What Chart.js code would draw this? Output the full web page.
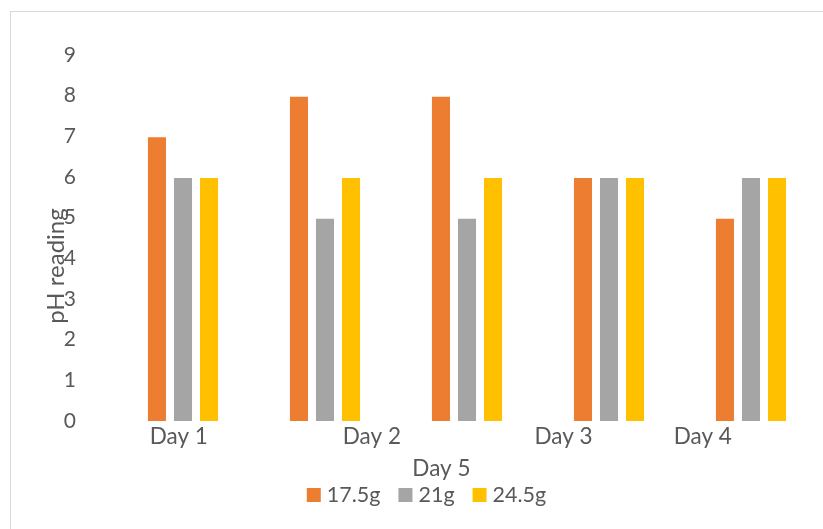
<!DOCTYPE html>
<html>
<head>
<meta charset="utf-8">
<script src="https://cdn.jsdelivr.net/npm/chart.js@4"></script>
<style>
  html, body { margin: 0; padding: 0; background: #fff; overflow: hidden; width: 823px; height: 529px; }
  #frame { position: absolute; left: 10px; top: 11px; width: 835px; height: 530px; border: 1px solid #D9D9D9; background: #fff; }
  canvas { display: block; }
</style>
</head>
<body>
<div id="frame"><canvas id="c" width="835" height="530"></canvas></div>
<script>
// pH readings per day for each sample weight
const days = ['Day 1', 'Day 2', 'Day 3', 'Day 4', 'Day 5'];
const seriesNames = ['17.5g', '21g', '24.5g'];
const seriesColors = ['#ED7D31', '#A5A5A5', '#FFC000'];
const ph17_5 = [7, 8, 8, 6, 5];
const ph21 = [6, 5, 5, 6, 6];
const ph24_5 = [6, 6, 6, 6, 6];
const yTickValues = [0, 1, 2, 3, 4, 5, 6, 7, 8, 9];
const yTitle = 'pH reading';

const FONT = 'Lato';
const TEXT = '#595959';

// Category labels sit in two rows under the bars, the value-axis title is
// drawn rotated beside the tick numbers, and the legend is centred below.
const axisTextPlugin = {
  id: 'axisText',
  afterDraw(chart, args, opts) {
    const { ctx, chartArea } = chart;
    const x = chart.scales.x;
    ctx.save();
    ctx.fillStyle = TEXT;
    ctx.textAlign = 'center';
    ctx.textBaseline = 'middle';
    ctx.font = opts.daySize + 'px ' + FONT;
    days.forEach((d, i) => {
      const [slot, row] = opts.placement[i];
      ctx.fillText(d, x.getPixelForValue(slot), chartArea.bottom + opts.firstRow + row * opts.rowGap);
    });

    // legend
    ctx.font = opts.legendSize + 'px ' + FONT;
    ctx.textAlign = 'left';
    const items = chart.data.datasets.map(ds => ({
      text: ds.label, color: ds.backgroundColor, w: ctx.measureText(ds.label).width
    }));
    const box = opts.legendBox, gap = opts.legendGap, space = opts.legendSpacing;
    const total = items.reduce((s, it) => s + box + gap + it.w, 0) + space * (items.length - 1);
    let lx = chart.width / 2 + opts.legendShift - total / 2;
    const ly = chartArea.bottom + opts.legendRow;
    items.forEach(it => {
      ctx.fillStyle = it.color;
      ctx.fillRect(lx, ly - box / 2, box, box);
      ctx.fillStyle = TEXT;
      ctx.fillText(it.text, lx + box + gap, ly);
      lx += box + gap + it.w + space;
    });

    // value-axis title
    ctx.textAlign = 'center';
    ctx.font = opts.titleSize + 'px ' + FONT;
    ctx.translate(chartArea.left - opts.titleLeft, (chartArea.top + chartArea.bottom) / 2 + opts.titleDrop);
    ctx.rotate(-Math.PI / 2);
    ctx.fillText(yTitle, 0, 0);
    ctx.restore();
  }
};

new Chart(document.getElementById('c'), {
  type: 'bar',
  data: {
    labels: days,
    datasets: [
      { label: seriesNames[0], data: ph17_5, backgroundColor: seriesColors[0] },
      { label: seriesNames[1], data: ph21, backgroundColor: seriesColors[1] },
      { label: seriesNames[2], data: ph24_5, backgroundColor: seriesColors[2] }
    ]
  },
  options: {
    responsive: false,
    animation: false,
    devicePixelRatio: 1,
    layout: { padding: { left: 0, right: 24, top: 43, bottom: 76 } },
    datasets: {
      bar: {
        barPercentage: 0.77,
        categoryPercentage: 0.55,
        borderWidth: 1,
        borderColor: 'rgba(255,255,255,0.55)'
      }
    },
    scales: {
      x: {
        grid: { display: false },
        border: { display: false },
        ticks: { display: false },
        afterFit(scale) { scale.height = 45; }
      },
      y: {
        min: 0,
        max: 9,
        afterBuildTicks(scale) { scale.ticks = yTickValues.map(v => ({ value: v })); },
        grid: { display: false, drawTicks: true, tickLength: 36 },
        border: { display: false },
        ticks: { color: TEXT, font: { family: FONT, size: 21 }, padding: 0 },
        afterFit(scale) { scale.width = 101; }
      }
    },
    plugins: {
      legend: { display: false },
      tooltip: { enabled: false },
      axisText: {
        daySize: 22.5,
        firstRow: 16,
        rowGap: 32,
        placement: [[-0.03, 0], [1.33, 0], [2.68, 0], [3.66, 0], [1.82, 1]],
        titleSize: 24,
        titleLeft: 56,
        titleDrop: 28,
        legendSize: 21.5,
        legendBox: 14,
        legendGap: 6,
        legendSpacing: 18,
        legendShift: -2,
        legendRow: 74
      }
    }
  },
  plugins: [axisTextPlugin]
});
</script>
</body>
</html>
